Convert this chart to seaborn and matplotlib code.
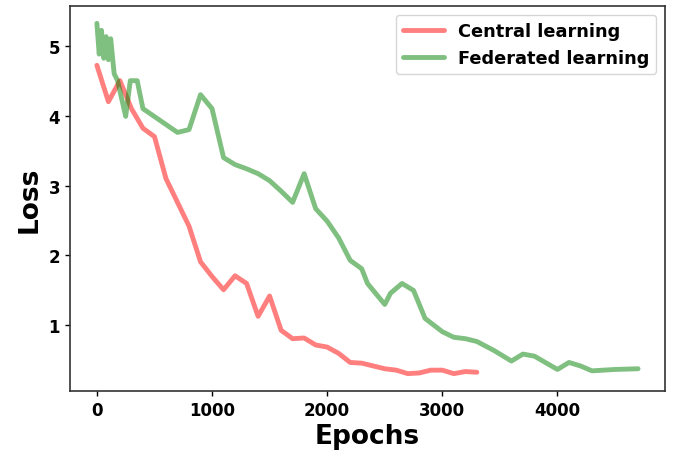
import matplotlib
matplotlib.use("Agg")
import matplotlib.pyplot as plt
import seaborn as sns
import pandas as pd

# values
central_epochs = [0, 100, 200, 300, 400, 500, 600, 700, 800, 900, 1000, 1100,
                  1200, 1300, 1400, 1500, 1600, 1700, 1800, 1900, 2000, 2100,
                  2200, 2300, 2400, 2500, 2600, 2700, 2800, 2900, 3000, 3100,
                  3200, 3300]
central_loss = [4.72, 4.20, 4.50, 4.10, 3.82, 3.70, 3.10, 2.76, 2.42, 1.91, 1.70, 1.51,
                1.71, 1.60, 1.13, 1.42, 0.93, 0.81, 0.82, 0.72, 0.69, 0.60,
                0.47, 0.46, 0.42, 0.38, 0.36, 0.31, 0.32, 0.36, 0.36, 0.31,
                0.34, 0.33]

federated_epochs = [0, 20, 40, 60, 80, 100, 120, 150, 180, 250, 290, 350, 400,
                    700, 800, 900, 1000, 1100, 1200, 1300, 1400, 1500, 1600, 1700,
                    1800, 1900, 2000, 2100, 2200, 2300, 2350, 2500, 2550, 2650,
                    2750, 2850, 3000, 3100, 3200, 3300, 3450, 3600, 3700, 3800,
                    4000, 4100, 4200, 4300, 4500, 4700]
federated_loss = [5.32, 4.88, 5.22, 4.82, 5.13, 4.80, 5.10, 4.60, 4.50, 3.99, 4.50, 4.50, 4.10,
                  3.76, 3.80, 4.30, 4.10, 3.40, 3.30, 3.24, 3.17, 3.07, 2.92, 2.76,
                  3.17, 2.67, 2.49, 2.25, 1.93, 1.81, 1.60, 1.30, 1.46, 1.60,
                  1.50, 1.10, 0.91, 0.83, 0.81, 0.77, 0.64, 0.49, 0.59, 0.56,
                  0.37, 0.47, 0.42, 0.35, 0.37, 0.38]


def main():
    sns.set_style("ticks")
    plt.rcParams['font.family'] = ['DejaVu Sans']
    plt.rcParams['text.color'] = 'black'
    plt.rcParams['axes.labelcolor'] = 'black'
    plt.rcParams['xtick.color'] = 'black'
    plt.rcParams['ytick.color'] = 'black'

    central = pd.DataFrame({'epoch': central_epochs, 'loss': central_loss})
    federated = pd.DataFrame({'epoch': federated_epochs, 'loss': federated_loss})

    fig, ax = plt.subplots(figsize=(6.78, 4.56), dpi=100)
    fig.subplots_adjust(left=0.103, right=0.981, top=0.985, bottom=0.140)

    sns.lineplot(data=central, x='epoch', y='loss', color='red', alpha=0.5,
                 linewidth=3.5, label='Central learning', ax=ax)
    sns.lineplot(data=federated, x='epoch', y='loss', color='green', alpha=0.5,
                 linewidth=3.5, label='Federated learning', ax=ax)

    ax.set_xlabel('Epochs', fontsize=19, fontweight='bold', labelpad=3)
    ax.set_ylabel('Loss', fontsize=19, fontweight='bold')
    ax.set_xticks([0, 1000, 2000, 3000, 4000])
    ax.set_yticks([1, 2, 3, 4, 5])
    ax.tick_params(length=3.5, width=1, colors='black')
    for lbl in ax.get_xticklabels() + ax.get_yticklabels():
        lbl.set_fontweight('bold')
        lbl.set_fontsize(12)

    for sp in ax.spines.values():
        sp.set_color('#333333')
        sp.set_linewidth(1.2)

    leg = ax.legend(loc='upper right', prop={'weight': 'bold', 'size': 12.8},
                    handlelength=2.3)
    leg.get_frame().set_edgecolor('#cccccc')

    plt.savefig('out.png', dpi=100)
    plt.close()


if __name__ == "__main__":
    main()
